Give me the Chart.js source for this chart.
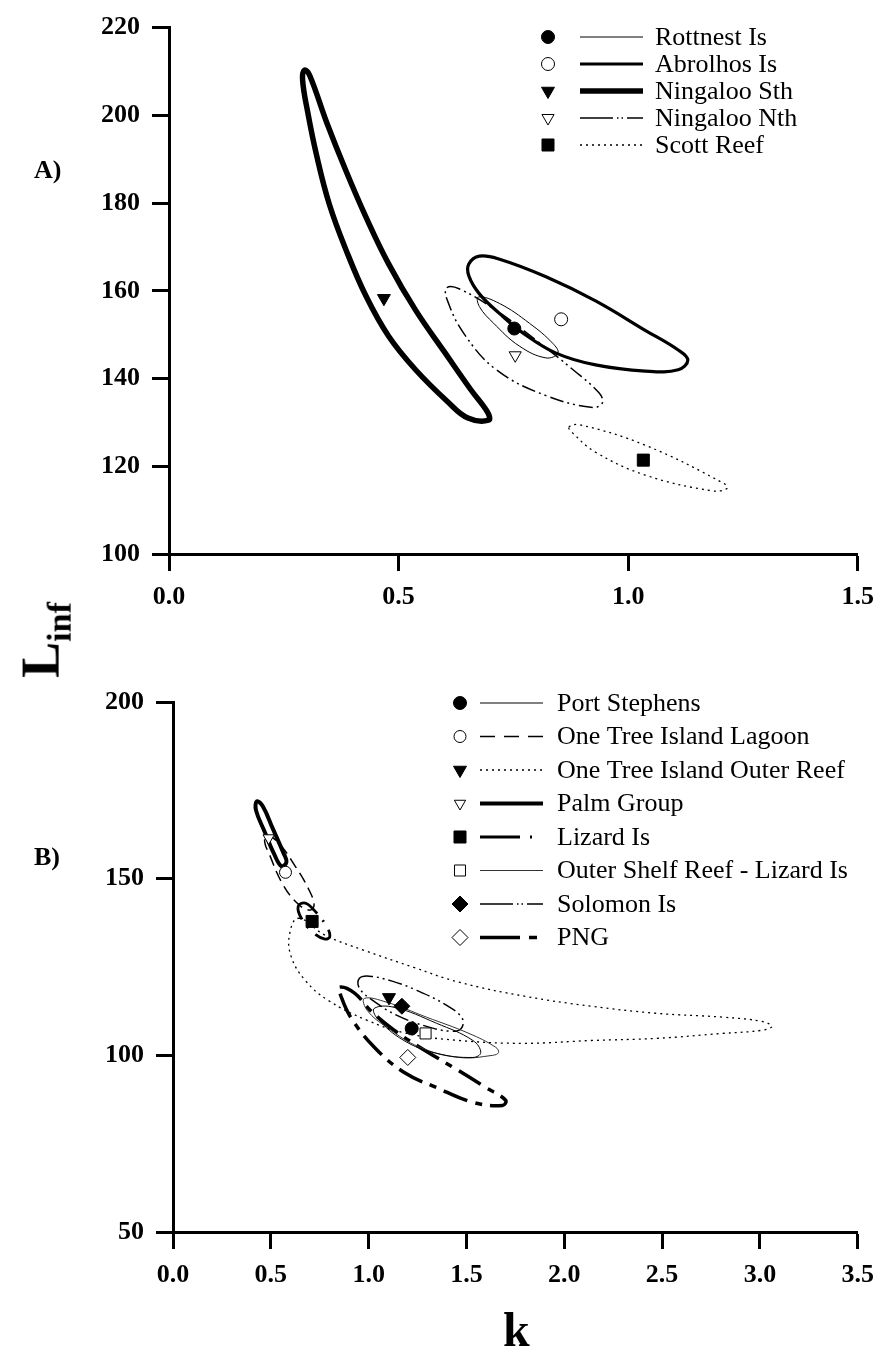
<!DOCTYPE html>
<html lang="en">
<head>
<meta charset="UTF-8">
<title>k vs L inf confidence regions</title>
<script src="https://cdn.jsdelivr.net/npm/chart.js"></script>
<style>
  body { margin: 0; background: #fff; }
  #page { position: relative; width: 885px; height: 1369px; font-family: 'Liberation Serif', 'Times New Roman', serif; color: #000; }
  canvas { position: absolute; left: 0; }
  .lbl { position: absolute; font-weight: bold; white-space: nowrap; line-height: 1; }
  #yTitle { left: 45px; top: 640px; font-size: 54px; transform: translate(-50%, -50%) rotate(-90deg); }
  #yTitle sub { font-size: 34px; }
</style>
</head>
<body>
<div id="page">
  <canvas id="chartA" width="885" height="650" style="top:0"></canvas>
  <canvas id="chartB" width="885" height="709" style="top:660px"></canvas>
  <div class="lbl" style="left:34px;top:157px;font-size:26px">A)</div>
  <div class="lbl" style="left:34px;top:844px;font-size:26px">B)</div>
  <div class="lbl" id="yTitle">L<sub>inf</sub></div>
  <div class="lbl" style="left:503px;top:1306px;font-size:48px">k</div>
</div>

<script>
// ---- panel A : Western Australia ----
const namesA = ['Rottnest Is', 'Abrolhos Is', 'Ningaloo Sth', 'Ningaloo Nth', 'Scott Reef'];
const centreKA = [0.752, 0.854, 0.468, 0.754, 1.033];
const centreLA = [151.4, 153.5, 158.3, 145.3, 121.4];

// confidence region outlines, [k, Linf]
const rottnestRegion = [[0.674,158.6],[0.720,157.1],[0.785,152.6],[0.836,148.0],[0.847,145.8],[0.821,144.7],[0.763,147.4],[0.707,152.6],[0.676,156.4]];
const abrolhosRegion = [[0.653,166.1],[0.676,167.9],[0.720,167.2],[0.821,163.2],[0.929,157.7],[1.037,151.0],[1.109,146.5],[1.130,144.2],[1.109,142.0],[1.037,141.7],[0.929,143.1],[0.843,145.8],[0.772,150.3],[0.720,154.8],[0.676,159.3],[0.653,163.4]];
const ningalooSthRegion = [[0.295,210.3],[0.306,209.2],[0.343,198.5],[0.386,187.2],[0.429,176.8],[0.478,166.2],[0.537,155.6],[0.601,145.9],[0.657,137.5],[0.694,132.3],[0.696,130.5],[0.651,131.0],[0.608,134.6],[0.537,142.0],[0.478,149.7],[0.429,158.8],[0.386,169.2],[0.349,179.8],[0.321,191.1],[0.302,200.8],[0.291,208.0]];
const ningalooNthRegion = [[0.605,160.7],[0.633,160.4],[0.713,155.5],[0.800,148.7],[0.880,142.0],[0.936,136.8],[0.944,134.5],[0.923,133.4],[0.821,136.1],[0.713,142.0],[0.642,150.3],[0.605,158.2]];
const scottRegion = [[0.871,128.9],[0.893,129.5],[1.037,124.8],[1.210,116.0],[1.215,114.9],[1.182,114.4],[1.037,118.0],[0.929,123.2],[0.880,127.5]];
const regionsA = [rottnestRegion, abrolhosRegion, ningalooSthRegion, ningalooNthRegion, scottRegion];

const kTicksA = [0, 0.5, 1.0, 1.5];
const lTicksA = [100, 120, 140, 160, 180, 200, 220];

// ---- panel B : eastern Australia / Pacific ----
const namesB = ['Port Stephens', 'One Tree Island Lagoon', 'One Tree Island Outer Reef', 'Palm Group',
                'Lizard Is', 'Outer Shelf Reef - Lizard Is', 'Solomon Is', 'PNG'];
const centreKB = [1.220, 0.575, 1.104, 0.489, 0.711, 1.291, 1.170, 1.200];
const centreLB = [107.6, 151.8, 116.4, 161.5, 137.9, 106.2, 113.9, 99.4];

const portStephensRegion = [[1.029,113.3],[1.130,113.6],[1.346,109.1],[1.533,104.2],[1.573,100.8],[1.533,99.4],[1.346,100.6],[1.180,104.2],[1.044,110.5]];
const lagoonRegion = [[0.479,162.3],[0.540,160.1],[0.625,153.5],[0.691,147.3],[0.721,142.5],[0.696,141.1],[0.630,143.3],[0.555,149.0],[0.494,156.7],[0.469,160.3]];
const outerReefRegion = [[0.640,138.8],[0.777,134.0],[0.978,129.7],[1.230,124.9],[1.462,120.7],[1.800,116.7],[2.138,113.9],[2.471,111.9],[2.809,110.8],[3.011,109.6],[3.061,108.2],[3.011,107.1],[2.809,106.2],[2.471,104.8],[2.138,104.2],[1.800,103.4],[1.462,104.2],[1.195,106.2],[0.993,109.9],[0.792,115.6],[0.676,121.2],[0.605,127.8],[0.595,134.0]];
const palmRegion = [[0.429,171.9],[0.459,170.5],[0.509,164.3],[0.565,157.2],[0.580,154.7],[0.555,153.5],[0.519,156.7],[0.469,163.2],[0.424,169.4]];
const lizardRegion = [[0.640,142.2],[0.676,143.1],[0.721,141.1],[0.782,136.8],[0.802,133.7],[0.777,132.9],[0.716,134.8],[0.656,138.8]];
const outerShelfRegion = [[0.978,116.1],[1.094,115.0],[1.296,110.8],[1.513,106.2],[1.649,102.3],[1.664,100.8],[1.634,100.0],[1.462,99.4],[1.261,102.3],[1.094,107.9],[0.993,112.7]];
const solomonRegion = [[0.953,121.8],[1.004,122.4],[1.120,121.0],[1.246,118.4],[1.397,114.2],[1.478,110.5],[1.473,107.6],[1.422,106.8],[1.296,108.2],[1.145,111.3],[1.019,115.6],[0.953,119.0]];
const pngRegion = [[0.852,119.3],[0.928,117.6],[1.009,112.7],[1.130,107.1],[1.261,102.3],[1.432,96.6],[1.599,90.9],[1.700,87.3],[1.684,85.8],[1.533,86.7],[1.346,90.9],[1.180,95.2],[1.029,102.3],[0.908,110.8],[0.857,117.0]];
const regionsB = [portStephensRegion, lagoonRegion, outerReefRegion, palmRegion, lizardRegion, outerShelfRegion, solomonRegion, pngRegion];

const kTicksB = [0, 0.5, 1.0, 1.5, 2.0, 2.5, 3.0, 3.5];
const lTicksB = [50, 100, 150, 200];

// ---- styles ----
const dashDotDot = [14, 4, 2, 4, 2, 4];
const keyDashDotDot = [33, 4, 1.5, 3, 1.5, 4, 20];
const linesA = [
  { width: 1, dash: [] },
  { width: 3.2, dash: [] },
  { width: 5.5, dash: [] },
  { width: 1.5, dash: dashDotDot, keyDash: keyDashDotDot },
  { width: 1.3, dash: [2, 4] }
];
const marksA = [
  { style: 'circle', fill: '#000', r: 6.5 },
  { style: 'circle', fill: '#fff', r: 6.5 },
  { style: 'triangle', rotation: 180, fill: '#000', r: 7.5 },
  { style: 'triangle', rotation: 180, fill: '#fff', r: 7 },
  { style: 'rect', fill: '#000', r: 8.5 }
];
const linesB = [
  { width: 1, dash: [] },
  { width: 1.5, dash: [11, 6], keyDash: [15, 9] },
  { width: 1.3, dash: [2, 4] },
  { width: 4, dash: [] },
  { width: 2.8, dash: [24, 9, 2, 9], keyDash: [40, 10, 2, 20] },
  { width: 1, dash: [], color: '#333' },
  { width: 1.5, dash: dashDotDot, keyDash: keyDashDotDot },
  { width: 3.5, dash: [26, 8, 7, 8], keyDash: [40, 9, 8, 20] }
];
const marksB = [
  { style: 'circle', fill: '#000', r: 6.5 },
  { style: 'circle', fill: '#fff', r: 6 },
  { style: 'triangle', rotation: 180, fill: '#000', r: 7.5 },
  { style: 'triangle', rotation: 180, fill: '#fff', r: 6.5 },
  { style: 'rect', fill: '#000', r: 8.5 },
  { style: 'rect', fill: '#fff', r: 7.8 },
  { style: 'rectRot', fill: '#000', r: 8 },
  { style: 'rectRot', fill: '#fff', r: 8 }
];

// wrap the outline so the spline closes smoothly; the two wrap segments stay hidden
function ring(pts) {
  const n = pts.length;
  return [pts[n - 1], ...pts, pts[0], pts[1]].map(p => ({ x: p[0], y: p[1] }));
}

function regionSet(pts, st) {
  const lastIdx = pts.length + 1;
  return {
    data: ring(pts),
    showLine: true,
    pointRadius: 0,
    borderColor: st.color || '#000',
    borderWidth: st.width,
    borderDash: st.dash,
    tension: 0.4,
    segment: {
      borderColor: c => (c.p0DataIndex === 0 || c.p0DataIndex === lastIdx) ? 'rgba(0,0,0,0)' : undefined
    }
  };
}

function markSet(k, l, m) {
  return {
    data: [{ x: k, y: l }],
    showLine: false,
    pointStyle: m.style,
    rotation: m.rotation || 0,
    pointRadius: m.r,
    pointHoverRadius: m.r,
    pointBackgroundColor: m.fill,
    pointBorderColor: '#000',
    pointBorderWidth: 1
  };
}

function drawMark(ctx, m, x, y) {
  const r = m.r;
  ctx.beginPath();
  if (m.style === 'circle') {
    ctx.arc(x, y, r, 0, Math.PI * 2);
  } else {
    let n = 4, a0 = 0;
    if (m.style === 'triangle') { n = 3; a0 = (m.rotation || 0) * Math.PI / 180; }
    if (m.style === 'rect') a0 = Math.PI / 4;
    for (let i = 0; i < n; i++) {
      const a = a0 + i * 2 * Math.PI / n;
      const px = x + Math.sin(a) * r, py = y - Math.cos(a) * r;
      if (i) ctx.lineTo(px, py); else ctx.moveTo(px, py);
    }
    ctx.closePath();
  }
  ctx.fillStyle = m.fill;
  ctx.fill();
  ctx.lineWidth = 1;
  ctx.strokeStyle = '#000';
  ctx.setLineDash([]);
  ctx.stroke();
}

// key drawn on the canvas: marker, line sample, name
const keyPlugin = {
  id: 'keyList',
  afterDraw(chart, args, o) {
    const ctx = chart.ctx;
    ctx.save();
    o.names.forEach((name, i) => {
      const y = o.y + i * o.dy;
      drawMark(ctx, o.marks[i], o.markX, y);
      const st = o.lines[i];
      ctx.beginPath();
      ctx.setLineDash(st.keyDash || st.dash);
      ctx.lineWidth = st.width;
      ctx.strokeStyle = st.color || '#000';
      ctx.moveTo(o.x0, y);
      ctx.lineTo(o.x1, y);
      ctx.stroke();
      ctx.setLineDash([]);
      ctx.fillStyle = '#000';
      ctx.font = '26px "Liberation Serif"';
      ctx.textBaseline = 'middle';
      ctx.fillText(name, o.textX, y + 1);
    });
    ctx.restore();
  }
};

const tickFont = { family: 'Liberation Serif', size: 26, weight: 'bold' };

function axis(min, max, step, fixed, isX, size) {
  return {
    type: 'linear',
    min: min, max: max,
    ticks: {
      stepSize: step,
      color: '#000',
      font: tickFont,
      padding: isX ? 11 : 12,
      callback: v => fixed ? v.toFixed(1) : v
    },
    grid: { drawOnChartArea: false, drawTicks: true, tickLength: 17, tickWidth: 3, tickColor: '#000', color: '#000' },
    border: { display: true, width: 3, color: '#000' },
    afterFit: s => { if (isX) s.height = size; else s.width = size; }
  };
}

function build(id, names, cK, cL, regions, marks, lines, x, y, pad, key) {
  const sets = [];
  names.forEach((n, i) => sets.push(markSet(cK[i], cL[i], marks[i])));
  names.forEach((n, i) => sets.push(regionSet(regions[i], lines[i])));
  return new Chart(document.getElementById(id), {
    type: 'scatter',
    data: { datasets: sets },
    options: {
      responsive: false,
      animation: false,
      devicePixelRatio: 1,
      layout: { padding: pad },
      plugins: { legend: { display: false }, tooltip: { enabled: false }, keyList: Object.assign({ names, marks, lines }, key) },
      scales: { x: x, y: y }
    },
    plugins: [keyPlugin]
  });
}

build('chartA', namesA, centreKA, centreLA, regionsA, marksA, linesA,
  axis(kTicksA[0], kTicksA[kTicksA.length - 1], 0.5, true, true, 96),
  axis(lTicksA[0], lTicksA[lTicksA.length - 1], 20, false, false, 169),
  { top: 22, right: 21, left: 0, bottom: 0 },
  { markX: 548, x0: 580, x1: 643, textX: 655, y: 37, dy: 27 });

build('chartB', namesB, centreKB, centreLB, regionsB, marksB, linesB,
  axis(kTicksB[0], kTicksB[kTicksB.length - 1], 0.5, true, true, 137),
  axis(lTicksB[0], lTicksB[lTicksB.length - 1], 50, false, false, 173),
  { top: 42, right: 18, left: 0, bottom: 0 },
  { markX: 460, x0: 480, x1: 543, textX: 557, y: 43, dy: 33.5 });
</script>
</body>
</html>
